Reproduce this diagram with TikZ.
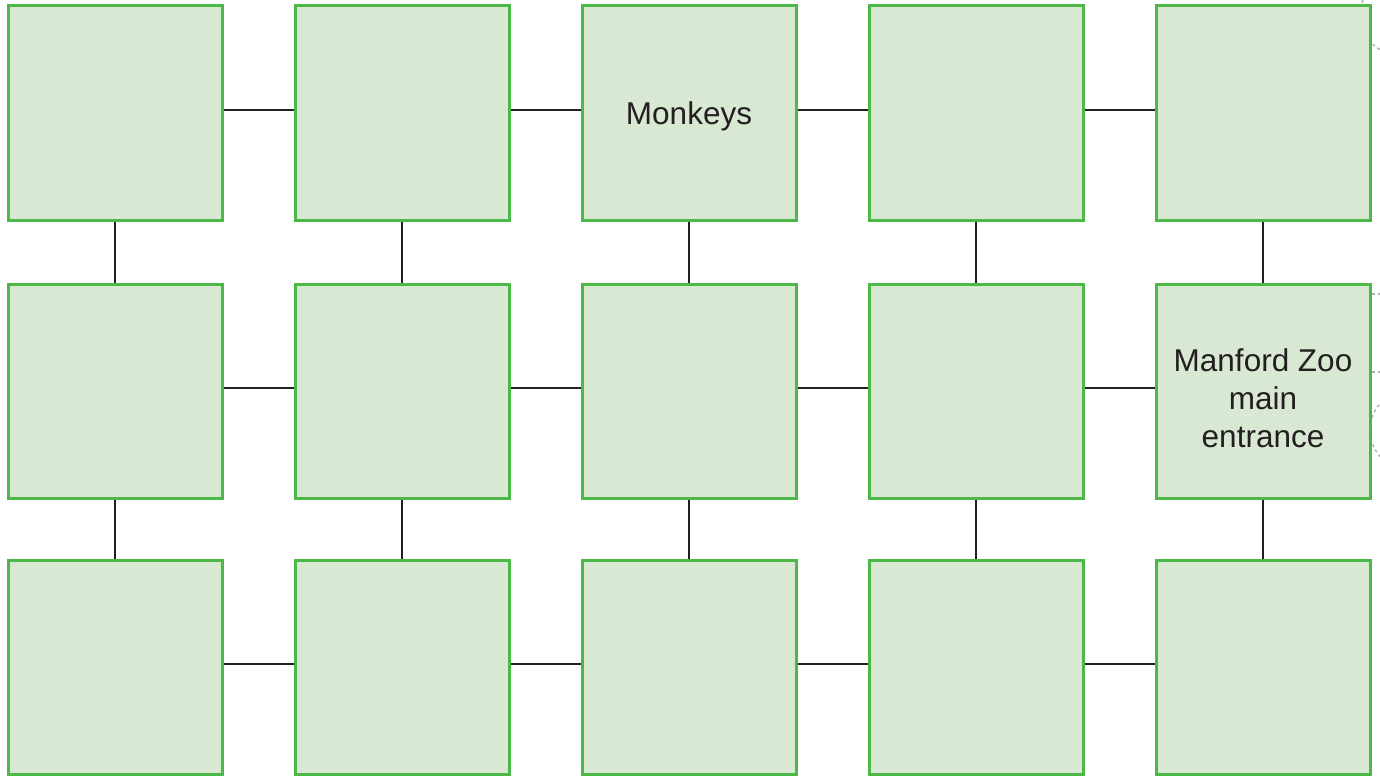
\documentclass[tikz,border=0pt]{standalone}
\usepackage{fontspec}
\setmainfont{Liberation Sans}
\usepackage{tikz}
\usetikzlibrary{positioning}
\definecolor{zoogreen}{HTML}{4CB848}
\definecolor{zoofill}{HTML}{D8E8D3}
\definecolor{zooink}{HTML}{231F20}

\begin{document}
\begin{tikzpicture}[x=1pt,y=-1pt,
    enclosure/.style={draw=zoogreen,fill=zoofill,line width=3pt,minimum size=214pt,
      inner sep=0pt,align=center,text=zooink},
    label/.style={text=zooink,align=center,font=\fontsize{31.5}{38}\selectfont},
    path/.style={draw=zooink,line width=2.5pt}]
        \useasboundingbox (0,0) rectangle (1380,776);
        \begin{scope}
        \clip (0,0) rectangle (1380,776);
        %Faint marks at the edge
        \draw[gray!60,dashed,line width=1.5pt] (1400,15) circle(40);
        \draw[gray!60,dashed,line width=1.5pt] (1410,430) circle(40);
        \draw[gray!60,dashed,line width=1.5pt] (1372,294) -- (1380,294);
        \draw[gray!60,dashed,line width=1.5pt] (1372,372) -- (1380,372);
        \end{scope}
        %Enclosures
        \foreach \c/\x in {1/115,2/402,3/689,4/976,5/1263}
          \foreach \r/\y in {1/113,2/391,3/667}
            \node[enclosure] (b\r\c) at (\x,\y) {};
        %Labels
        \node[label] (monkeys) at ([yshift=-3pt]b13) {Monkeys};
        \node[label] (entrance) at ([yshift=-7pt]b25) {Manford Zoo\\main\\entrance};
        %Paths between enclosures
        \foreach \r in {1,2,3}
          \foreach \c/\n in {1/2,2/3,3/4,4/5}
            \draw[path] ([yshift=3pt]b\r\c.east) -- ([yshift=3pt]b\r\n.west);
        \foreach \c in {1,2,3,4,5}
          \foreach \r/\n in {1/2,2/3}
            \draw[path] (b\r\c.south) -- (b\n\c.north);
      \end{tikzpicture}
\end{document}
